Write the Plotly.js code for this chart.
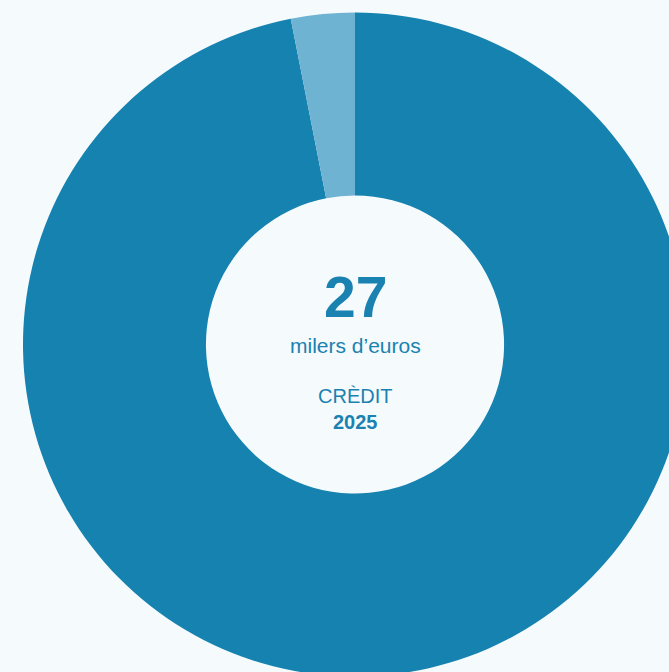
<!DOCTYPE html>
<html>
<head>
<meta charset="utf-8">
<script src="https://cdn.plot.ly/plotly-3.0.1.min.js"></script>
<style>
html,body{margin:0;padding:0;background:#f5fafd;overflow:hidden;width:669px;height:672px;}
#chart{position:absolute;left:0;top:0;width:710px;height:689px;}
</style>
</head>
<body>
<div id="chart"></div>
<script>
const labels = ["Crèdit concedit", "Altres"];
const values = [96.9, 3.1];
const colors = ["#1682b0", "#6fb3d2"];
const totalText = "27";
const unitText = "milers d’euros";
const typeText = "CRÈDIT";
const yearText = "2025";

const W = 710, H = 689;
const textColor = "#1a82b0";
const font = "Liberation Sans, Arial, sans-serif";
function py(p){ return 1 - p / H; }

const data = [{
  type: "pie",
  labels: labels,
  values: values,
  hole: 0.449,
  sort: false,
  direction: "clockwise",
  rotation: 0,
  marker: {colors: colors, line: {width: 0}},
  textinfo: "none",
  hoverinfo: "label+value",
  domain: {x: [0, 1], y: [12.5 / H, 676.5 / H]}
}];

const layout = {
  width: W, height: H,
  margin: {l: 0, r: 0, t: 0, b: 0},
  paper_bgcolor: "#f5fafd",
  plot_bgcolor: "#f5fafd",
  showlegend: false,
  annotations: [
    {text: "<b>" + totalText + "</b>", x: 355 / W, y: py(297), xref: "paper", yref: "paper", showarrow: false, font: {family: font, size: 57, color: textColor}, xanchor: "center", yanchor: "middle"},
    {text: unitText, x: 355 / W, y: py(345), xref: "paper", yref: "paper", showarrow: false, font: {family: font, size: 21, color: textColor}, xanchor: "center", yanchor: "middle"},
    {text: typeText, x: 355 / W, y: py(396), xref: "paper", yref: "paper", showarrow: false, font: {family: font, size: 20, color: textColor}, xanchor: "center", yanchor: "middle"},
    {text: "<b>" + yearText + "</b>", x: 355 / W, y: py(422), xref: "paper", yref: "paper", showarrow: false, font: {family: font, size: 20, color: textColor}, xanchor: "center", yanchor: "middle"}
  ]
};

Plotly.newPlot("chart", data, layout, {displayModeBar: false});
</script>
</body>
</html>
